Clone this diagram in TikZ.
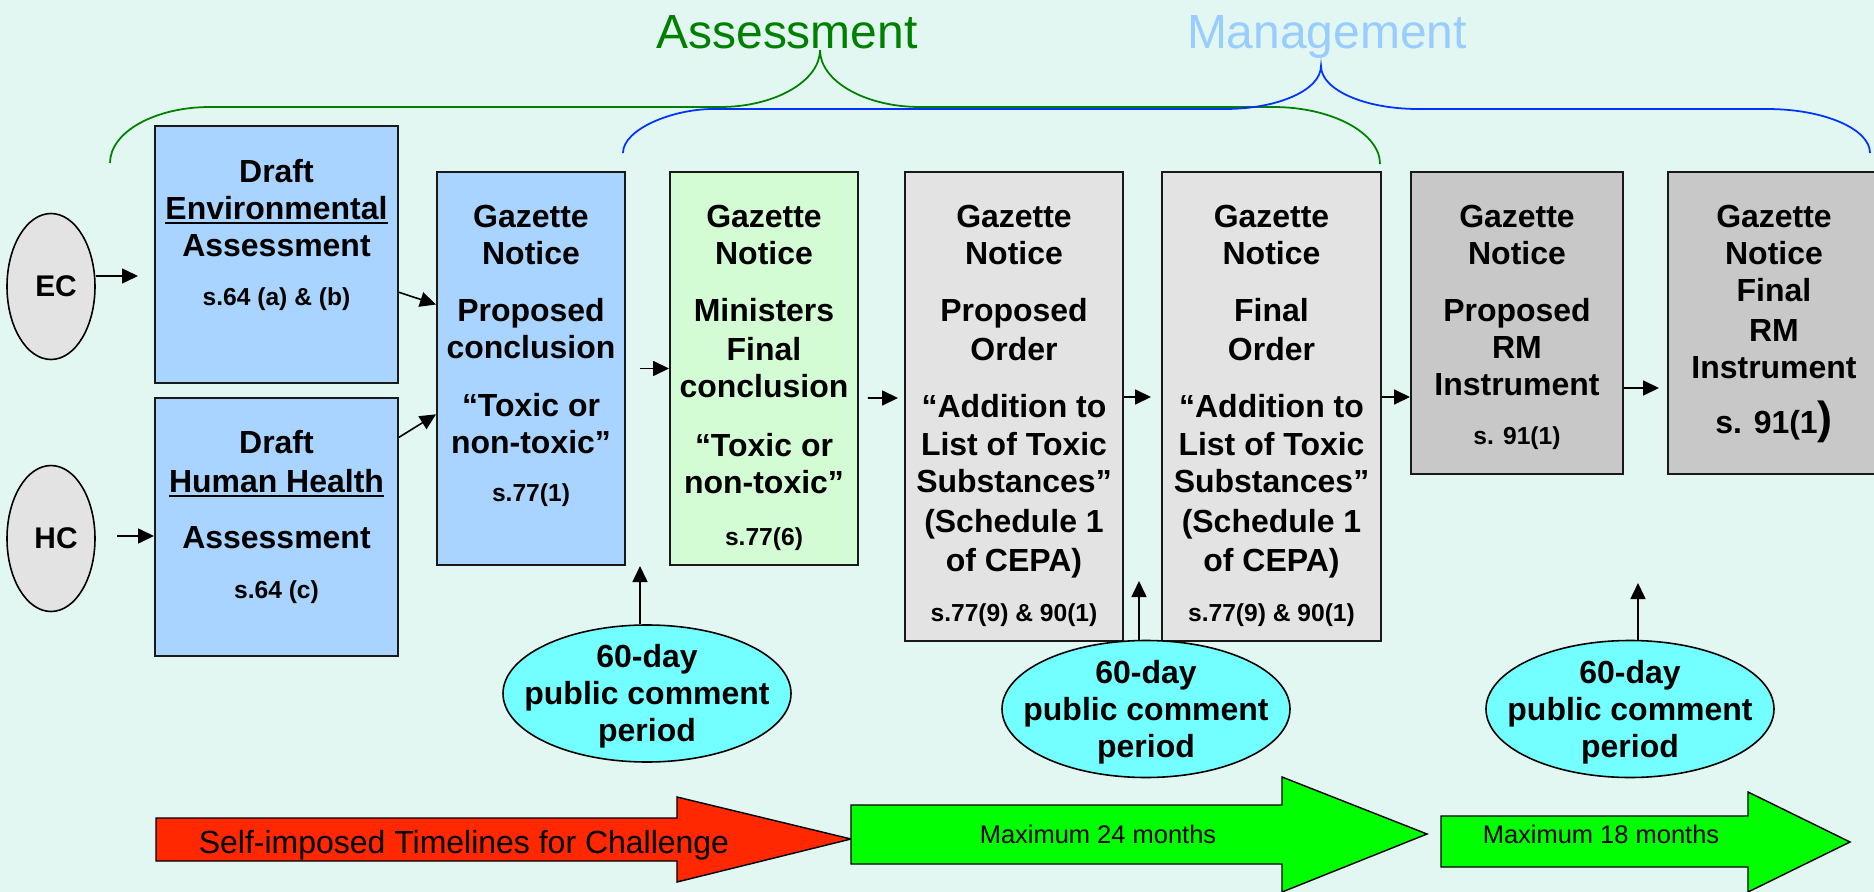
\documentclass[tikz,border=0pt]{standalone}
\usepackage{fontspec}
\setmainfont{Liberation Sans}
\usetikzlibrary{arrows.meta}
\usetikzlibrary{shapes.geometric}
\usetikzlibrary{calc}

\definecolor{bgmint}{RGB}{226,247,241}
\definecolor{bluefill}{RGB}{168,212,255}
\definecolor{greenfill}{RGB}{212,252,212}
\definecolor{lightgrey}{RGB}{227,227,227}
\definecolor{darkgrey}{RGB}{200,200,200}
\definecolor{cyanfill}{RGB}{115,255,255}
\definecolor{redarrow}{RGB}{255,40,0}
\definecolor{greenarrow}{RGB}{0,255,0}
\definecolor{assesscol}{RGB}{0,128,0}
\definecolor{managecol}{RGB}{153,204,255}
\definecolor{bracecol}{RGB}{0,51,255}

\newcommand\smalltext{\fontsize{14}{21}\selectfont}
\newcommand\ulword[1]{\sbox0{#1}\rlap{\rule[-2.8pt]{\wd0}{1.4pt}}\usebox0}

\begin{document}
\begin{tikzpicture}[x=0.02cm, y=-0.02cm,
    box/.style={draw=black!90, line width=1.1pt, inner sep=0pt},
    btext/.style={font=\bfseries\fontsize{18.2}{21}\selectfont, align=center, inner sep=0pt, anchor=north},
    bubble/.style={draw, ellipse, line width=0.9pt, fill=cyanfill, inner sep=0pt,
      minimum width=288*\pxu, minimum height=137*\pxu},
    agency/.style={draw, ellipse, line width=0.9pt, fill=lightgrey, inner sep=0pt,
      minimum width=88*\pxu, minimum height=146*\pxu, font=\bfseries\fontsize{17}{20}\selectfont},
    link/.style={line width=0.9pt, -{Triangle[length=0.32cm, width=0.3cm]}},
    blockarrow/.style={draw=black, line width=0.8pt}
  ]
      \def\pxu{0.02cm}

      \useasboundingbox (0,0) rectangle (1874,892);
      \fill[bgmint] (0,0) rectangle (1874,892);

      % braces and headings
      \draw[assesscol, line width=1pt] (110,163) .. controls (110,132) and (155,107) .. (210,107) -- (720,107)
        .. controls (775,107) and (820,81) .. (820,50) .. controls (820,81) and (865,107) .. (920,107) -- (1273,107)
        .. controls (1332,107) and (1380,133) .. (1380,164);
      \draw[bracecol, line width=1pt] (623,153) .. controls (623,129) and (673,109) .. (713,109) -- (1225,109)
        .. controls (1278,109) and (1321,90) .. (1321,66) .. controls (1321,90) and (1365,109) .. (1418,109) -- (1767,109)
        .. controls (1824,109) and (1870,129) .. (1870,153);
      \node[font=\fontsize{27.3}{30}\selectfont, text=assesscol, anchor=base] (assess) at (787,49) {Assessment};
      \node[font=\fontsize{27.3}{30}\selectfont, text=managecol, anchor=base] (manage) at (1327,49) {Management};

      \node[agency] (ec) at (51,286.5) {\hspace*{5.7pt}EC};
      \node[agency] (hc) at (51,538.5) {\hspace*{5.7pt}HC};

      \node[box, fill=bluefill, minimum width=243*\pxu, minimum height=257*\pxu] (env) at (276.5,254.5) {};
      \node[btext] (envtext) at ([yshift=-34*\pxu]env.north)
        {Draft\\\ulword{Environmental}\\Assessment\\[7pt]{\smalltext s.64 (a) \& (b)}};
      \node[box, fill=bluefill, minimum width=243*\pxu, minimum height=258*\pxu] (hh) at (276.5,527) {};
      \node[btext] (hhtext) at ([yshift=-33*\pxu]hh.north)
        {Draft\\[1pt]\ulword{Human Health}\\[11pt]Assessment\\[7.6pt]{\smalltext s.64 (c)}};

      \node[box, fill=bluefill, minimum width=188*\pxu, minimum height=393*\pxu] (g1) at (531,368.5) {};
      \node[btext] (g1text) at ([yshift=-34*\pxu]g1.north)
        {Gazette\\Notice\\[11.4pt]Proposed\\conclusion\\[12pt]“Toxic or\\non-toxic”\\[6.5pt]{\smalltext s.77(1)}};
      \node[box, fill=greenfill, minimum width=188*\pxu, minimum height=393*\pxu] (g2) at (764,368.5) {};
      \node[btext] (g2text) at ([yshift=-34*\pxu]g2.north)
        {Gazette\\Notice\\[11.4pt]Ministers\\[1pt]Final\\conclusion\\[12.6pt]“Toxic or\\non-toxic”\\[8.8pt]{\smalltext s.77(6)}};
      \node[box, fill=lightgrey, minimum width=218*\pxu, minimum height=469*\pxu] (g3) at (1014,406.5) {};
      \node[btext] (g3text) at ([yshift=-34*\pxu]g3.north)
        {Gazette\\Notice\\[11.4pt]Proposed\\[1pt]Order\\[11.4pt]“Addition to\\[1pt]List of Toxic\\Substances”\\[1.8pt](Schedule 1\\[1pt]of CEPA)\\[7.6pt]{\smalltext s.77(9) \& 90(1)}};
      \node[box, fill=lightgrey, minimum width=219*\pxu, minimum height=469*\pxu] (g4) at (1271.5,406.5) {};
      \node[btext] (g4text) at ([yshift=-34*\pxu]g4.north)
        {Gazette\\Notice\\[11.4pt]Final\\[1pt]Order\\[11.4pt]“Addition to\\[1pt]List of Toxic\\Substances”\\[1.8pt](Schedule 1\\[1pt]of CEPA)\\[7.6pt]{\smalltext s.77(9) \& 90(1)}};
      \node[box, fill=darkgrey, minimum width=212*\pxu, minimum height=302*\pxu] (g5) at (1517,323) {};
      \node[btext] (g5text) at ([yshift=-34*\pxu]g5.north)
        {Gazette\\Notice\\[11.4pt]Proposed\\RM\\Instrument\\[7pt]{\smalltext s. 91(1)}};
      \node[box, fill=darkgrey, minimum width=212*\pxu, minimum height=302*\pxu] (g6) at (1774,323) {};
      \node[btext] (g6text) at ([yshift=-34*\pxu]g6.north)
        {Gazette\\Notice\\Final\\[1.8pt]RM\\Instrument\\[10.3pt]s. 91(1{\fontsize{25.6}{21}\selectfont)}};

      % comment periods
      \node[bubble] (c1) at (647,693.5) {};
      \node[btext, anchor=center] (c1text) at ([yshift=-3*\pxu]c1.center) {60-day\\public comment\\period};
      \node[bubble] (c2) at (1146,709) {};
      \node[btext, anchor=center] (c2text) at ([yshift=-3.5*\pxu]c2.center) {60-day\\public comment\\period};
      \node[bubble] (c3) at (1630,709) {};
      \node[btext, anchor=center] (c3text) at ([yshift=-3.5*\pxu]c3.center) {60-day\\public comment\\period};

      % connectors
      \coordinate (ecin) at (138,276);
      \draw[link] (ec.east |- ecin) -- (ecin);
      \coordinate (hcout) at (117,536);
      \draw[link] (hcout) -- (hcout -| hh.west);
      \draw[link] ($(env.north east)!.646!(env.south east)$) -- ($(g1.north west)!.338!(g1.south west)$);
      \draw[link] ($(hh.north east)!.155!(hh.south east)$) -- ($(g1.north west)!.616!(g1.south west)$);
      \draw[link] ([xshift=14*\pxu]g1.east) -- (g2.west);
      \draw[link] ([xshift=9*\pxu, yshift=-29.5*\pxu]g2.east) -- ([xshift=-6*\pxu, yshift=8.5*\pxu]g3.west);
      \draw[link] ([yshift=9.5*\pxu]g3.east) -- ([xshift=-10*\pxu, yshift=9.5*\pxu]g4.west);
      \draw[link] ([yshift=9.5*\pxu]g4.east) -- ([yshift=-74*\pxu]g5.west);
      \draw[link] ([yshift=-65*\pxu]g5.east) -- ([xshift=-8*\pxu, yshift=-65*\pxu]g6.west);

      \coordinate (c1tip) at (640,566);
      \draw[link] (c1tip |- c1.north) -- (c1tip);
      \coordinate (c2tip) at (1139,581);
      \draw[link] (c2tip |- c2.north) -- (c2tip);
      \coordinate (c3tip) at (1638,583);
      \draw[link] (c3tip |- c3.north) -- (c3tip);

      % timelines
      \filldraw[blockarrow, fill=redarrow] (156,818) -- (677,818) -- (677,797) -- (851,839) -- (677,882) -- (677,861) -- (156,861) -- cycle;
      \node[font=\fontsize{18.2}{21}\selectfont, anchor=base] (challenge) at (464,853) {Self-imposed Timelines for Challenge};
      \filldraw[blockarrow, fill=greenarrow] (851,805) -- (1282,805) -- (1282,777) -- (1427,834) -- (1282,892) -- (1282,864) -- (851,864) -- cycle;
      \node[font=\fontsize{14.5}{17}\selectfont, anchor=base] (max24) at (1098,843) {Maximum 24 months};
      \filldraw[blockarrow, fill=greenarrow] (1441,816) -- (1748,816) -- (1748,792) -- (1850,842) -- (1748,892) -- (1748,867) -- (1441,867) -- cycle;
      \node[font=\fontsize{14.5}{17}\selectfont, anchor=base] (max18) at (1601,843) {Maximum 18 months};

    \end{tikzpicture}
\end{document}
